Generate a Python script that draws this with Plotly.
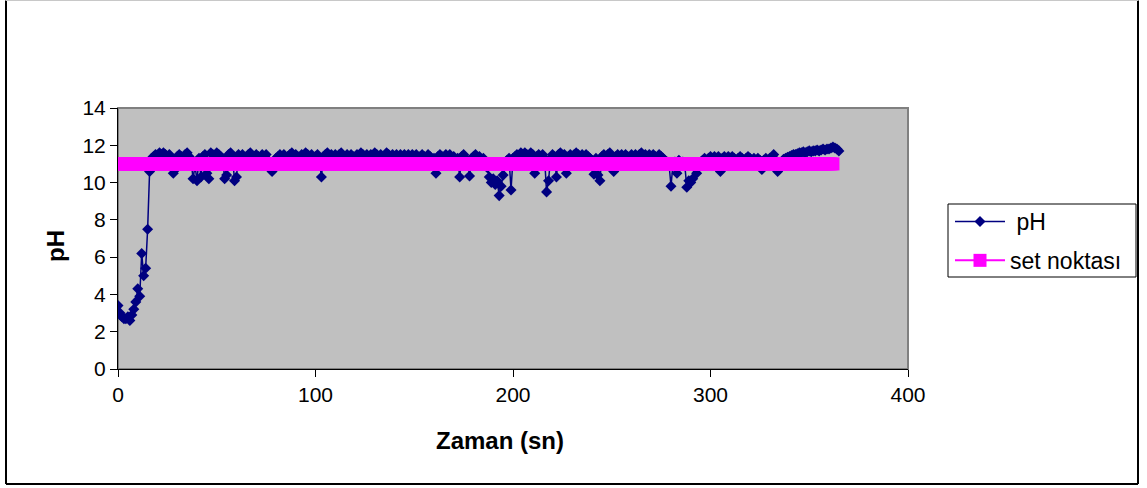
import plotly.graph_objects as go

# pH readings, one per second
ph = [
    3.4, 3.0, 2.8, 2.7, 2.7, 2.8, 2.6, 2.9, 3.2, 3.6,
    4.3, 3.9, 6.2, 5.0, 5.4, 7.5, 10.6, 11.3, 11.4, 11.5,
    11.4, 11.6, 11.5, 11.6, 11.5, 11.4, 11.5, 11.3, 10.5, 10.7,
    11.4, 11.5, 11.4, 11.3, 11.5, 11.6, 11.4, 11.2, 10.2, 10.9,
    10.1, 11.3, 10.3, 11.4, 11.5, 10.5, 10.2, 11.6, 11.5, 11.4,
    11.6, 11.5, 11.4, 11.3, 10.2, 10.4, 11.5, 11.6, 11.4, 10.1,
    10.3, 11.5, 11.4, 11.5, 11.3, 11.4, 11.5, 11.6, 11.2, 11.4,
    11.5, 11.4, 11.3, 11.5, 11.4, 11.5, 11.2, 11.0, 10.6, 11.1,
    11.3, 11.4, 11.5, 11.4, 11.5, 11.3, 11.4, 11.5, 11.6, 11.4,
    11.5, 11.4, 11.3, 11.5, 11.4, 11.6, 11.5, 11.4, 11.5, 11.3,
    11.4, 11.5, 11.2, 10.3, 11.4, 11.5, 11.6, 11.4, 11.5, 11.3,
    11.5, 11.4, 11.5, 11.6, 11.4, 11.3, 11.5, 11.4, 11.5, 11.4,
    11.3, 11.5, 11.4, 11.6, 11.5, 11.4, 11.5, 11.3, 11.5, 11.4,
    11.6, 11.5, 11.4, 11.5, 11.3, 11.4, 11.6, 11.5, 11.4, 11.5,
    11.4, 11.5, 11.3, 11.5, 11.4, 11.5, 11.4, 11.5, 11.3, 11.5,
    11.4, 11.5, 11.3, 11.4, 11.5, 11.4, 11.3, 11.5, 11.4, 11.2,
    11.3, 10.5, 11.4, 11.5, 11.4, 11.3, 11.5, 11.4, 11.5, 11.3,
    11.4, 11.2, 11.3, 10.3, 11.4, 11.5, 11.3, 11.2, 10.35, 11.3,
    11.4, 11.5, 11.3, 11.4, 11.2, 11.3, 11.1, 10.8, 10.3, 10.0,
    10.2, 9.9, 10.1, 9.3, 9.8, 10.4, 11.0, 11.2, 11.3, 9.6,
    11.3, 11.4, 11.5, 11.4, 11.6, 11.5, 11.6, 11.5, 11.4, 11.6,
    11.5, 10.5, 11.4, 11.5, 11.4, 11.5, 11.3, 9.5, 10.1, 11.3,
    11.5, 11.4, 10.3, 11.5, 11.6, 11.4, 11.5, 10.5, 11.4, 11.5,
    11.4, 11.5, 11.6, 11.5, 11.4, 11.5, 11.3, 11.5, 11.4, 11.3,
    11.2, 10.45, 11.3, 10.4, 10.1, 11.4, 11.5, 11.4, 11.5, 11.6,
    11.3, 10.6, 11.4, 11.5, 11.4, 11.5, 11.4, 11.5, 11.4, 11.3,
    11.5, 11.4, 11.5, 11.4, 11.5, 11.6, 11.4, 11.5, 11.4, 11.5,
    11.4, 11.5, 11.4, 11.3, 11.5, 11.4, 11.3, 11.2, 11.1, 11.0,
    9.8, 11.0, 11.1, 10.5, 11.2, 11.0, 11.1, 10.9, 9.75, 10.1,
    10.0, 10.2, 10.8, 10.5, 10.9, 11.1, 11.2, 11.3, 11.2, 11.3,
    11.4, 11.3, 11.4, 11.3, 11.4, 10.6, 11.3, 11.4, 11.3, 11.4,
    11.3, 11.4, 11.3, 11.2, 11.3, 11.4, 11.3, 11.2, 11.3, 11.4,
    11.3, 11.2, 11.3, 11.2, 11.3, 11.2, 10.7, 11.2, 11.3, 11.2,
    11.3, 11.2, 11.5, 11.2, 10.6, 11.0, 11.1, 11.25, 11.3, 11.35,
    11.4, 11.45, 11.5, 11.5, 11.55, 11.6, 11.6, 11.65, 11.6, 11.65,
    11.7, 11.65, 11.7, 11.7, 11.75, 11.7, 11.75, 11.8, 11.75, 11.8,
    11.8, 11.85, 11.9, 11.85, 11.8, 11.7,
]
zaman = list(range(len(ph)))          # time in seconds
set_noktasi = [11.0] * 363            # constant set point (0..362 s)
set_zaman = zaman[:len(set_noktasi)]

x_ticks = [0, 100, 200, 300, 400]
y_ticks = [0, 2, 4, 6, 8, 10, 12, 14]

FONT = "Liberation Sans, Arial, sans-serif"
W, H = 1147, 488
L, R, T, B = 118, 239, 108, 119
PW, PH = W - L - R, H - T - B


def px(xp):
    return (xp - L) / PW


def py(yp):
    return (H - B - yp) / PH


fig = go.Figure()
fig.add_trace(go.Scatter(
    x=zaman, y=ph, name=" pH", mode="lines+markers", legendgroup="a",
    line=dict(color="#000080", width=1.5),
    marker=dict(symbol="diamond", size=8.5, color="#000080"),
))
fig.add_trace(go.Scatter(
    x=set_zaman, y=set_noktasi, name="set noktası", mode="lines+markers", legendgroup="b",
    line=dict(color="#FF00FF", width=2),
    marker=dict(symbol="square", size=13, color="#FF00FF"),
))

shapes = [
    # plot-area border (grey)
    dict(type="rect", xref="paper", yref="paper", x0=0, y0=0, x1=1, y1=1,
         line=dict(color="#808080", width=2), layer="below"),
    # outer chart border
    dict(type="line", xref="paper", yref="paper", x0=px(6), x1=px(6), y0=py(0.5), y1=py(484),
         line=dict(color="black", width=2)),
    dict(type="line", xref="paper", yref="paper", x0=px(1138), x1=px(1138), y0=py(0.5), y1=py(484),
         line=dict(color="black", width=2)),
    dict(type="line", xref="paper", yref="paper", x0=px(6), x1=px(1138), y0=py(484), y1=py(484),
         line=dict(color="black", width=2)),
    dict(type="line", xref="paper", yref="paper", x0=px(6), x1=px(1138), y0=py(0.5), y1=py(0.5),
         line=dict(color="#c8c8c8", width=1)),
    # legend box
    dict(type="rect", xref="paper", yref="paper", x0=px(948), x1=px(1136), y0=py(204), y1=py(277),
         line=dict(color="black", width=1), fillcolor="white", layer="below"),
]

annotations = [
    dict(text="<b>Zaman (sn)</b>", xref="paper", yref="paper", x=px(500), y=py(440),
         xanchor="center", yanchor="middle", showarrow=False,
         font=dict(size=24, family=FONT, color="black")),
    dict(text="<b>pH</b>", xref="paper", yref="paper", x=px(55), y=py(246),
         xanchor="center", yanchor="middle", showarrow=False, textangle=-90,
         font=dict(size=24, family=FONT, color="black")),
]

fig.update_layout(
    width=W, height=H,
    margin=dict(l=L, r=R, t=T, b=B),
    paper_bgcolor="white",
    plot_bgcolor="#C0C0C0",
    font=dict(family=FONT, color="black", size=22),
    showlegend=True,
    legend=dict(x=px(950), y=py(200), xanchor="left", yanchor="top",
                bgcolor="rgba(0,0,0,0)", borderwidth=0,
                font=dict(size=23, family=FONT), itemwidth=50,
                traceorder="grouped", tracegroupgap=6),
    shapes=shapes,
    annotations=annotations,
    xaxis=dict(range=[0, 400], tickvals=x_ticks, ticktext=[str(v) for v in x_ticks],
               showgrid=False, zeroline=False, showline=True, linecolor="black", linewidth=1,
               ticks="outside", ticklen=7, tickcolor="black",
               tickfont=dict(size=21, family=FONT)),
    yaxis=dict(range=[0, 14], tickvals=y_ticks, ticktext=[str(v) for v in y_ticks],
               showgrid=False, zeroline=False, showline=True, linecolor="black", linewidth=1,
               ticks="outside", ticklen=7, tickcolor="black",
               tickfont=dict(size=21, family=FONT)),
)

fig.write_html("out.html")
